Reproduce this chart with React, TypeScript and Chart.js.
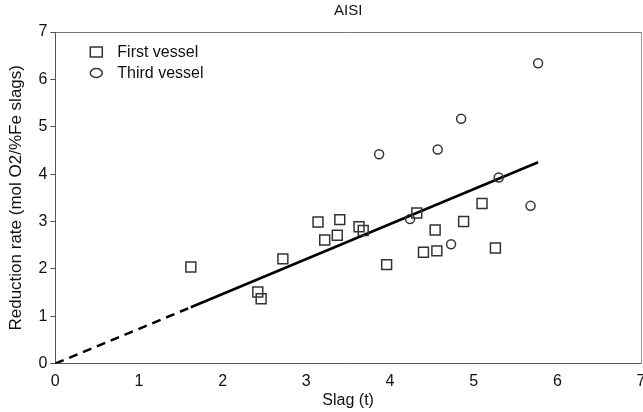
import { useEffect, useRef } from "react";
import { Chart, registerables } from "chart.js";

Chart.register(...registerables);

const firstX = [1.62, 2.42, 2.46, 2.72, 3.14, 3.22, 3.37, 3.40, 3.63, 3.68, 3.96, 4.32, 4.40, 4.54, 4.56, 4.88, 5.10, 5.26];
const firstY = [2.04, 1.51, 1.37, 2.21, 2.99, 2.61, 2.71, 3.04, 2.89, 2.81, 2.09, 3.18, 2.35, 2.82, 2.38, 3.00, 3.38, 2.44];
const thirdX = [3.87, 4.24, 4.57, 4.73, 4.85, 5.30, 5.68, 5.77];
const thirdY = [4.42, 3.05, 4.52, 2.52, 5.17, 3.93, 3.33, 6.34];
const fitX = [0, 1.62, 5.77];
const fitY = [0, 1.19, 4.25];
const xTicks = [0, 1, 2, 3, 4, 5, 6, 7];
const yTicks = [0, 1, 2, 3, 4, 5, 6, 7];

const FONT = "'Liberation Sans', Arial, Helvetica, sans-serif";

const legendPlugin = {
  id: "insideLegend",
  afterDraw(chart: any) {
    const ctx = chart.ctx;
    const a = chart.chartArea;
    const items = chart.data.datasets.filter((d: any) => d.legendShape);
    ctx.save();
    items.forEach((d: any, i: number) => {
      const cx = a.left + 41;
      const cy = a.top + 20 + i * 21;
      ctx.strokeStyle = "#333";
      ctx.lineWidth = 1.5;
      ctx.beginPath();
      if (d.legendShape === "rect") {
        ctx.rect(cx - 6, cy - 5, 12, 10);
      } else {
        ctx.ellipse(cx, cy, 6, 4.5, 0, 0, Math.PI * 2);
      }
      ctx.stroke();
      ctx.fillStyle = "#111";
      ctx.font = `16px ${FONT}`;
      ctx.textBaseline = "middle";
      ctx.textAlign = "left";
      ctx.fillText(d.label, cx + 21, cy + 1);
    });
    ctx.restore();
  },
};

export default function App() {
  const ref = useRef<HTMLCanvasElement | null>(null);

  useEffect(() => {
    document.body.style.margin = "0";
    document.body.style.overflow = "hidden";
    document.documentElement.style.overflow = "hidden";
    if (!ref.current) return;
    const chart = new Chart(ref.current, {
      type: "scatter",
      data: {
        datasets: [
          {
            label: "First vessel",
            legendShape: "rect",
            data: firstX.map((x, i) => ({ x, y: firstY[i] })),
            pointStyle: "rect",
            pointRadius: 7,
            pointBorderWidth: 1.5,
            borderColor: "#333",
            backgroundColor: "rgba(0,0,0,0)",
          } as any,
          {
            label: "Third vessel",
            legendShape: "circle",
            data: thirdX.map((x, i) => ({ x, y: thirdY[i] })),
            pointStyle: "circle",
            pointRadius: 4.5,
            pointBorderWidth: 1.5,
            borderColor: "#333",
            backgroundColor: "rgba(0,0,0,0)",
          } as any,
          {
            label: "Fit",
            data: fitX.map((x, i) => ({ x, y: fitY[i] })),
            showLine: true,
            pointRadius: 0,
            borderColor: "#000",
            borderWidth: 2.5,
            segment: {
              borderDash: (c: any) => (c.p0DataIndex === 0 ? [9, 6] : undefined),
            },
          } as any,
        ],
      },
      options: {
        animation: false,
        responsive: false,
        maintainAspectRatio: false,
        layout: { padding: { left: 6, right: 11, top: 2, bottom: 2 } },
        plugins: {
          legend: { display: false },
          tooltip: { enabled: false },
        },
        scales: {
          x: {
            type: "linear",
            min: 0,
            max: 7,
            afterBuildTicks: (s: any) => {
              s.ticks = xTicks.map((v) => ({ value: v }));
            },
            ticks: { font: { family: FONT, size: 16 }, color: "#111", padding: 0 },
            grid: { display: false },
            border: { display: true, color: "#555", width: 1 },
            title: {
              display: true,
              text: "Slag (t)",
              font: { family: FONT, size: 16 },
              color: "#111",
              padding: { top: 0, bottom: 0 },
            },
          },
          x2: {
            type: "linear",
            position: "top",
            min: 0,
            max: 7,
            ticks: { display: false },
            grid: { display: false },
            border: { display: true, color: "#777", width: 1 },
            title: {
              display: true,
              text: "AISI",
              font: { family: FONT, size: 15 },
              color: "#111",
              padding: { top: 0, bottom: 4 },
            },
          },
          y: {
            type: "linear",
            min: 0,
            max: 7,
            afterBuildTicks: (s: any) => {
              s.ticks = yTicks.map((v) => ({ value: v }));
            },
            ticks: { font: { family: FONT, size: 16 }, color: "#111", padding: 3 },
            grid: { display: true, drawOnChartArea: false, tickLength: 5, color: "#555" },
            border: { display: true, color: "#555", width: 1 },
            title: {
              display: true,
              text: "Reduction rate (mol O2/%Fe slags)",
              font: { family: FONT, size: 17 },
              color: "#111",
              padding: { top: 0, bottom: 9 },
            },
          },
          y2: {
            type: "linear",
            position: "right",
            min: 0,
            max: 7,
            ticks: { display: false },
            grid: { display: false },
            border: { display: true, color: "#999", width: 1 },
          },
        },
      } as any,
      plugins: [legendPlugin],
    });
    return () => chart.destroy();
  }, []);

  return (
    <div style={{ width: 660, height: 412 }}>
      <canvas ref={ref} width={660} height={412} style={{ width: 660, height: 412, display: "block" }} />
    </div>
  );
}
